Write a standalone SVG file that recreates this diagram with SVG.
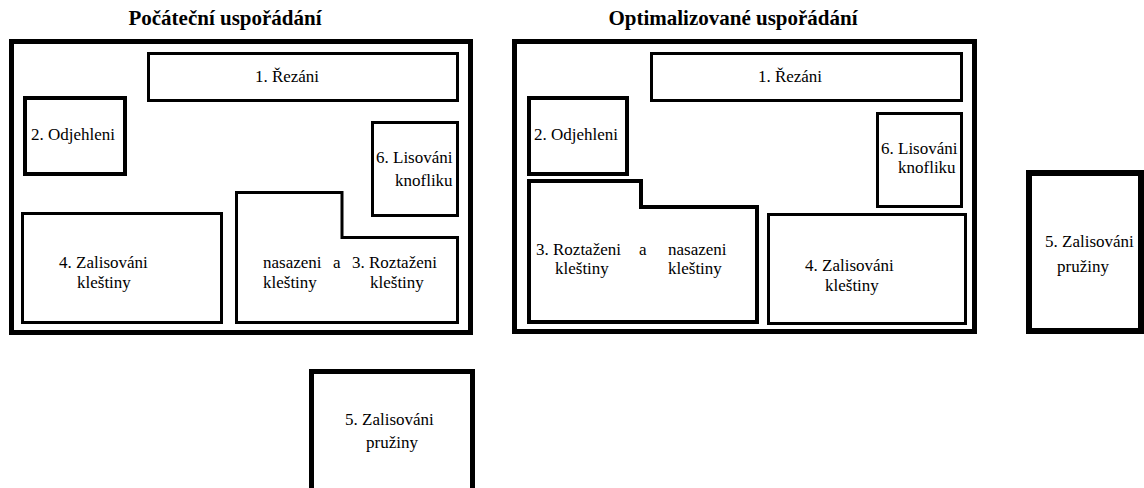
<svg xmlns="http://www.w3.org/2000/svg" width="1144" height="488" viewBox="0 0 1144 488" font-family="Liberation Serif, Times New Roman, Tinos, serif">
<style>
.bg{fill:#ffffff}
.frame{fill:none;stroke:#000;stroke-width:5}
.box{fill:none;stroke:#000;stroke-width:3}
.thick{fill:none;stroke:#000;stroke-width:4}
.big{fill:none;stroke:#000;stroke-width:6}
.t{font-size:17px;fill:#000}
.title{font-size:21px;font-weight:bold;text-anchor:middle;fill:#000}
.c{text-anchor:middle}
</style>
<rect class="bg" x="0" y="0" width="1144" height="488"/>
<text class="title" x="225" y="25" font-family="Liberation Serif, serif">Počáteční uspořádání</text>
<text class="title" x="733" y="25" font-family="Liberation Serif, serif">Optimalizované uspořádání</text>

<g id="left-layout" font-family="Liberation Serif, serif">
  <rect class="frame" x="11.5" y="41.5" width="459" height="291"/>
  <g id="l-rezani">
    <rect class="box" x="148.5" y="53.5" width="309" height="47"/>
    <text class="t c" x="287" y="82">1. Řezáni</text>
  </g>
  <g id="l-odjehleni">
    <rect class="thick" x="25" y="98" width="100" height="76"/>
    <text class="t" x="31" y="140">2. Odjehleni</text>
  </g>
  <g id="l-lisovani">
    <rect class="box" x="372.5" y="122.5" width="85" height="93"/>
    <text class="t" x="376" y="163">6. Lisováni</text>
    <text class="t" x="395" y="186">knofliku</text>
  </g>
  <g id="l-zalisovani">
    <rect class="box" x="22.5" y="213.5" width="199" height="109"/>
    <text class="t" x="59" y="268">4. Zalisováni</text>
    <text class="t" x="77" y="288">kleštiny</text>
  </g>
  <g id="l-roztazeni">
    <polygon class="box" points="236.5,192.5 342,192.5 342,237.5 457.5,237.5 457.5,322.5 236.5,322.5"/>
    <text class="t" x="263" y="268">nasazeni</text>
    <text class="t" x="333" y="268">a</text>
    <text class="t" x="352" y="268">3. Roztaženi</text>
    <text class="t" x="263" y="288">kleštiny</text>
    <text class="t" x="370" y="288">kleštiny</text>
  </g>
</g>

<g id="l-pruziny" font-family="Liberation Serif, serif">
  <rect class="frame" x="311.5" y="371.5" width="161" height="130"/>
  <text class="t" x="345" y="425">5. Zalisováni</text>
  <text class="t" x="366" y="448">pružiny</text>
</g>

<g id="right-layout" font-family="Liberation Serif, serif">
  <rect class="frame" x="514.5" y="41.5" width="460" height="290"/>
  <g id="r-rezani">
    <rect class="box" x="651.5" y="53.5" width="310" height="47"/>
    <text class="t c" x="790" y="82">1. Řezáni</text>
  </g>
  <g id="r-odjehleni">
    <rect class="thick" x="529" y="98" width="98" height="76"/>
    <text class="t" x="534" y="140">2. Odjehleni</text>
  </g>
  <g id="r-lisovani">
    <rect class="box" x="877.5" y="113.5" width="84" height="93"/>
    <text class="t" x="881" y="154">6. Lisováni</text>
    <text class="t" x="898" y="173">knofliku</text>
  </g>
  <g id="r-roztazeni">
    <polygon class="thick" points="529,181 641,181 641,207 757,207 757,322 529,322"/>
    <text class="t" x="536" y="255">3. Roztaženi</text>
    <text class="t" x="639" y="255">a</text>
    <text class="t" x="668" y="255">nasazeni</text>
    <text class="t" x="555" y="274">kleštiny</text>
    <text class="t" x="668" y="274">kleštiny</text>
  </g>
  <g id="r-zalisovani">
    <rect class="box" x="768.5" y="214.5" width="197" height="109"/>
    <text class="t" x="805" y="271">4. Zalisováni</text>
    <text class="t" x="825" y="291">kleštiny</text>
  </g>
</g>

<g id="r-pruziny" font-family="Liberation Serif, serif">
  <rect class="big" x="1029" y="173" width="112" height="158"/>
  <text class="t" x="1045" y="247">5. Zalisováni</text>
  <text class="t" x="1057" y="272">pružiny</text>
</g>

<g id="connectors"></g>
</svg>
